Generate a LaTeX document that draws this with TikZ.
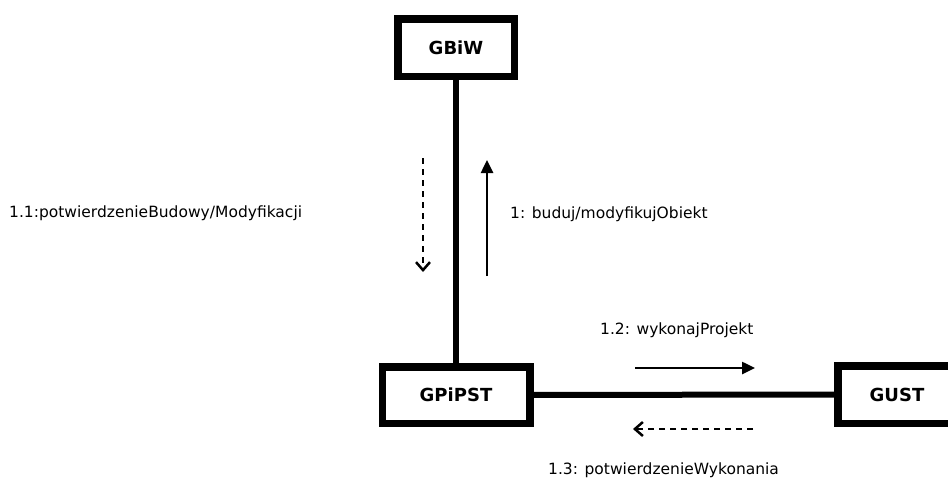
\documentclass[tikz,border=0pt]{standalone}
\usepackage{fontspec}
\setmainfont{DejaVu Sans}
\usetikzlibrary{arrows.meta}
\tikzset{
  obj/.style={draw=black, line width=7.5pt, fill=white, inner sep=0pt, font=\fontsize{18}{20}\selectfont\bfseries},
  link/.style={line width=6pt},
  msg/.style={line width=2.5pt, -{Triangle[length=13pt,width=12pt]}},
  ret/.style={line width=2.5pt, dash pattern=on 6pt off 5pt, -{Straight Barb[length=8pt,width=14pt,line width=2.5pt]}},
  lbl/.style={font=\fontsize{15.5}{18}\selectfont, inner sep=0pt}
}
\begin{document}
\begin{tikzpicture}[x=1pt,y=-1pt]
\useasboundingbox (0,0) rectangle (948,485);
\node[obj, minimum width=116.5pt, minimum height=57.5pt] (gbiw) at (456,47.5) {GBiW};
\node[obj, minimum width=147.5pt, minimum height=56.5pt] (gpipst) at (456,395) {GPiPST};
\node[obj, minimum width=118.5pt, minimum height=57.5pt] (gust) at (897,394.5) {GUST};
\draw[link] (gbiw) -- (gpipst);
\draw[link] (gpipst) -- (gust);
\coordinate (a1s) at (487,276);
\coordinate (a1e) at (487,160);
\coordinate (a2s) at (423,158);
\coordinate (a2e) at (423,272);
\coordinate (a3s) at (635,368);
\coordinate (a3e) at (755,368);
\coordinate (a4s) at (753,429);
\coordinate (a4e) at (633,429);
\draw[msg] (a1s) -- (a1e);
\draw[ret] (a2s) -- (a2e);
\draw[msg] (a3s) -- (a3e);
\draw[ret] (a4s) -- (a4e);
\node[lbl, anchor=west] (l1) at (510,214) {1: buduj/modyfikujObiekt};
\node[lbl, anchor=west] (l11) at (9,213) {1.1:potwierdzenieBudowy/Modyfikacji};
\node[lbl, anchor=west] (l12) at (600,330) {1.2: wykonajProjekt};
\node[lbl, anchor=west] (l13) at (548,470) {1.3: potwierdzenieWykonania};
\end{tikzpicture}
\end{document}
